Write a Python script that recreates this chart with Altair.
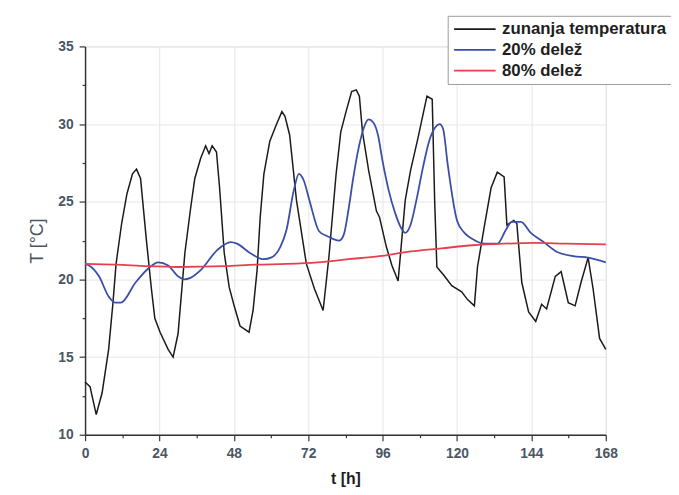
import altair as alt
import pandas as pd

# series names
series_names = ["zunanja temperatura", "20% delež", "80% delež"]
series_colors = ["#1a1a1a", "#3a4ea8", "#e6404f"]

# outside temperature
black_t = [0, 1.6, 3.6, 5.5, 7.6, 9, 10, 11.8, 13.5, 15.3, 16.6, 17.9, 19.8, 21.4, 22.5, 24.2, 26.8, 28.4, 30,
           32.2, 34, 35.4, 37.3, 38.9, 40, 41, 42.4, 43.4, 44.9, 46.5, 48.1, 50, 52.9, 54.2, 55.5, 56.5, 57.7,
           59.6, 61.8, 63.5, 64.5, 66, 68.2, 71.4, 74, 76.8, 78.7, 81, 82.5, 84.2, 86, 87.5, 88.5, 89.5, 91.5,
           94, 95, 97.2, 99, 101, 103.3, 105, 107.4, 110.3, 112, 112.8, 113.5, 116, 118.3, 121.5, 123.4, 125.6,
           126.6, 128.8, 131, 133, 135.2, 136.1, 138.3, 139.3, 140.9, 143.1, 145.4, 147.3, 148.9, 151.7, 153.6,
           155.9, 158.1, 160, 162.3, 163.9, 166, 168]
black_T = [13.4, 13.1, 11.3, 12.7, 15.5, 18.5, 21.0, 23.6, 25.5, 26.8, 27.1, 26.5, 22.5, 19.4, 17.5, 16.6, 15.5,
           15.0, 16.5, 21.7, 24.5, 26.5, 27.8, 28.6, 28.1, 28.6, 28.2, 25.9, 21.7, 19.5, 18.3, 17.0, 16.6, 18.0,
           20.6, 24.0, 26.8, 28.9, 30.0, 30.8, 30.5, 29.3, 25.1, 21.0, 19.4, 18.0, 21.5, 26.8, 29.5, 30.8, 32.1,
           32.2, 31.8, 29.5, 27.0, 24.4, 24.0, 22.1, 20.9, 19.9, 25.1, 27.0, 29.1, 31.8, 31.6, 25.0, 20.8, 20.2,
           19.6, 19.2, 18.7, 18.3, 20.8, 23.4, 25.9, 26.9, 26.6, 23.5, 23.8, 23.6, 19.8, 17.9, 17.3, 18.4, 18.1,
           20.2, 20.5, 18.5, 18.3, 19.8, 21.4, 19.4, 16.2, 15.5]

# 20% share
blue_t = [0, 1.3, 4.5, 7.6, 9.9, 11.5, 16.3, 20.4, 23.6, 26.8, 30, 32, 34, 37.3, 42.7, 47, 49, 53.2, 57.7, 60,
          63, 65, 67.3, 69, 70.5, 72.5, 75.5, 78, 82, 83.5, 85, 86.5, 88.3, 90, 91.5, 93, 94.5, 96, 98, 100,
          102, 103.3, 105, 107, 109, 111, 113, 114.4, 115.5, 117, 120, 122.4, 125, 128.8, 133, 135.8, 137.7,
          140.6, 143.8, 148, 152, 157.5, 162.3, 168]
blue_T = [21.0, 20.9, 20.2, 18.9, 18.5, 18.5, 19.8, 20.7, 21.1, 20.9, 20.2, 20.0, 20.1, 20.6, 21.9, 22.4, 22.3,
          21.7, 21.3, 21.4, 22.1, 23.2, 25.7, 26.8, 26.4, 25.0, 23.1, 22.8, 22.5, 22.9, 24.5, 26.5, 28.5, 29.8,
          30.3, 30.1, 29.3, 27.6, 25.7, 24.3, 23.3, 23.0, 23.5, 25.2, 27.2, 28.9, 29.8, 30.0, 29.7, 27.4, 23.8,
          23.0, 22.6, 22.3, 22.3, 23.2, 23.7, 23.7, 23.0, 22.4, 21.8, 21.5, 21.4, 21.1]

# 80% share
red_t = [0, 10, 20, 30, 45, 55, 65, 75, 85, 95, 105, 115, 125, 135, 145, 155, 168]
red_T = [21.0, 20.95, 20.85, 20.8, 20.85, 20.95, 21.0, 21.1, 21.3, 21.5, 21.8, 22.0, 22.2, 22.3, 22.35, 22.3, 22.25]

x_ticks = list(range(0, 169, 12))
y_ticks = [10 + 2.5 * i for i in range(11)]

rows = []
for name, ts, vs in zip(series_names, [black_t, blue_t, red_t], [black_T, blue_T, red_T]):
    for i, (t, v) in enumerate(zip(ts, vs)):
        rows.append({"series": name, "t": t, "T": v, "i": i})
df = pd.DataFrame(rows)

FONT = "Liberation Sans"
LAB = "#4a5663"

x_axis = alt.Axis(
    values=x_ticks,
    labelExpr="datum.value % 24 === 0 ? datum.label : ''",
    tickSize={"condition": {"test": "datum.value % 24 === 0", "value": 6}, "value": 3},
    gridOpacity={"condition": {"test": "datum.value % 24 === 0", "value": 1}, "value": 0},
    gridColor="#e6e6e6",
    title="t [h]",
    titleFontSize=16,
    titleFontWeight="bold",
    titleColor="#1e1e1e",
    titlePadding=10,
    labelFontSize=14,
    labelFontWeight="bold",
    labelColor=LAB,
    labelPadding=6,
    domainColor="#333333",
    domainWidth=1.5,
    tickColor="#333333",
    tickWidth=1.2,
    labelFlush=False,
)
y_axis = alt.Axis(
    values=y_ticks,
    labelExpr="datum.value % 5 === 0 ? datum.label : ''",
    tickSize={"condition": {"test": "datum.value % 5 === 0", "value": 6}, "value": 3},
    gridOpacity={"condition": {"test": "datum.value % 5 === 0", "value": 1}, "value": 0},
    gridColor="#e6e6e6",
    title="T [°C]",
    titleFontSize=18,
    titleFontWeight="normal",
    titleColor=LAB,
    titlePadding=12,
    labelFontSize=14,
    labelFontWeight="bold",
    labelColor=LAB,
    labelPadding=6,
    domainColor="#333333",
    domainWidth=1.5,
    tickColor="#333333",
    tickWidth=1.2,
    labelFlush=False,
)

color = alt.Color(
    "series:N",
    scale=alt.Scale(domain=series_names, range=series_colors),
    sort=series_names,
    legend=alt.Legend(
        title=None,
        orient="none",
        legendX=367,
        legendY=-31,
        padding=5,
        strokeColor="#9a9a9a",
        fillColor="white",
        symbolType="M-1,0H5",
        symbolSize=196,
        symbolStrokeWidth=2,
        symbolFillColor="transparent",
        labelFontSize=17,
        labelFont=FONT,
        labelFontWeight="bold",
        labelColor="#1e1e1e",
        labelOffset=33,
        rowPadding=3,
        labelLimit=300,
    ),
)

base = alt.Chart(df).encode(
    x=alt.X("t:Q", scale=alt.Scale(domain=[0, 168], nice=False), axis=x_axis),
    y=alt.Y("T:Q", scale=alt.Scale(domain=[10, 35], nice=False, zero=False), axis=y_axis),
    color=color,
    order="i:Q",
)

outside = base.transform_filter(alt.datum.series == series_names[0]).mark_line(
    strokeWidth=1.5, interpolate="linear")
shares = base.transform_filter(alt.datum.series != series_names[0]).mark_line(
    strokeWidth=1.8, interpolate="monotone")

chart = alt.layer(outside, shares).properties(
    width=527,
    height=393,
    autosize=alt.AutoSizeParams(type="none"),
    padding={"left": 78, "top": 36, "right": 66, "bottom": 50},
).configure_view(
    stroke="#333333", strokeWidth=1.5
).configure(
    font=FONT
)

chart.save("out.html", embed_options={"renderer": "svg", "actions": False})
